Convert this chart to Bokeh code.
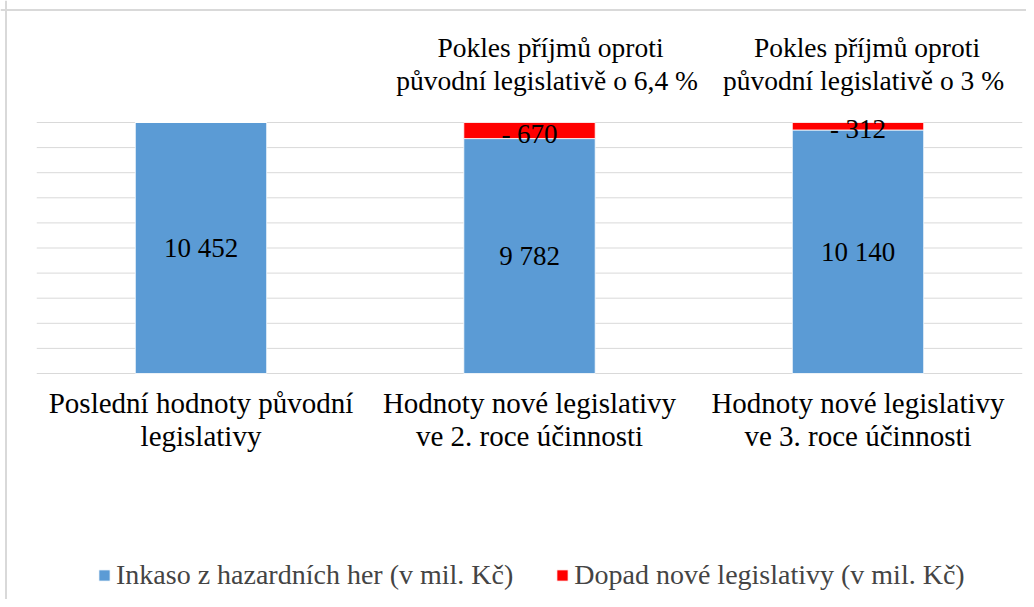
from bokeh.plotting import figure
from bokeh.models import ColumnDataSource, Legend, LegendItem, Span, Range1d
from bokeh.core.properties import value
from bokeh.embed import file_html
from bokeh.resources import INLINE

categories = ["Poslední hodnoty původní\nlegislativy",
              "Hodnoty nové legislativy\nve 2. roce účinnosti",
              "Hodnoty nové legislativy\nve 3. roce účinnosti"]
inkaso = [10452, 9782, 10140]
dopad = [0, 670, 312]
annotations = ["",
               "Pokles příjmů oproti\npůvodní legislativě  o 6,4 %",
               "Pokles příjmů oproti\npůvodní legislativě  o 3 %"]
series_names = ["Inkaso z hazardních her (v mil. Kč)", "Dopad nové legislativy (v mil. Kč)"]

BLUE = "#5B9BD5"
RED = "#FF0000"
FONT_NAME = "Liberation Serif"
FONT = value(FONT_NAME)

def fmt(v):
    return f"{v:,}".replace(",", " ")

W, H = 1026, 599
xs = list(range(len(categories)))
totals = [a + b for a, b in zip(inkaso, dopad)]
ymax = max(totals)

cat_px = 328.5
first_center = 200.5
base_px = 373.0
top_px = 122.0
upp = ymax / (base_px - top_px)

p = figure(width=W, height=H, output_backend="svg", toolbar_location=None,
           min_border=0, min_border_left=0, min_border_right=0,
           min_border_top=0, min_border_bottom=0,
           x_range=Range1d(-first_center / cat_px, (W - first_center) / cat_px),
           y_range=Range1d(-(H - base_px) * upp, base_px * upp))
p.axis.visible = False
p.grid.visible = False
p.outline_line_color = None
p.background_fill_color = "white"
p.border_fill_color = "white"

# horizontal gridlines (10 equal intervals up to the stacked total)
n_int = 10
ticks = [ymax * i / n_int for i in range(n_int + 1)]
p.segment(x0=[-0.5] * len(ticks), x1=[len(categories) - 0.5] * len(ticks),
          y0=ticks, y1=ticks, line_color="#D9D9D9", line_width=1)

# chart area border (top / left visible)
p.add_layout(Span(location=(base_px - 9.5) * upp, dimension="width", line_color="#D9D9D9", line_width=2))
p.add_layout(Span(location=(5.5 - first_center) / cat_px, dimension="height", line_color="#D9D9D9", line_width=2))

src = ColumnDataSource(dict(x=xs, inkaso=inkaso, dopad=dopad))
rs = p.vbar_stack(["inkaso", "dopad"], x="x", width=0.4, source=src,
                  color=[BLUE, RED], line_color="white", line_width=0.8)

# bar value labels
p.text(x=xs, y=[v / 2 for v in inkaso], text=[fmt(v) for v in inkaso],
       text_align="center", text_baseline="middle", text_font=FONT,
       text_font_size="27px", text_color="black")
dx = [x for x, d in zip(xs, dopad) if d > 0]
dy = [a + d / 2 for a, d in zip(inkaso, dopad) if d > 0]
dt = ["- " + fmt(d) for d in dopad if d > 0]
p.text(x=dx, y=dy, text=dt, text_align="center", text_baseline="middle",
       text_font=FONT, text_font_size="27px", text_color="black", y_offset=3)

# category labels
p.text(x=xs, y=[0] * len(xs), text=categories, text_align="center",
       text_baseline="top", text_font=FONT, text_font_size="29px",
       text_color="black", y_offset=13, text_line_height=1.04)

# annotations above bars
ax = [x for x, a in zip(xs, annotations) if a]
ay = [t for t, a in zip(totals, annotations) if a]
at = [a for a in annotations if a]
p.text(x=ax, y=ay, text=at, text_align="center", text_baseline="bottom",
       text_font=FONT, text_font_size="27.5px", text_color="black",
       x_offset=[21, 9], y_offset=-26, text_line_height=1.09)

legend = Legend(items=[LegendItem(label=series_names[0], renderers=[rs[0]]),
                       LegendItem(label=series_names[1], renderers=[rs[1]])],
                orientation="horizontal", location=(97, 8),
                label_text_font=FONT_NAME, label_text_font_size="28px",
                glyph_width=14, glyph_height=14, label_standoff=5, spacing=42,
                padding=0, margin=0, border_line_color=None,
                background_fill_alpha=0)
p.add_layout(legend, "center")

open("out.html", "w").write(file_html(p, INLINE))
